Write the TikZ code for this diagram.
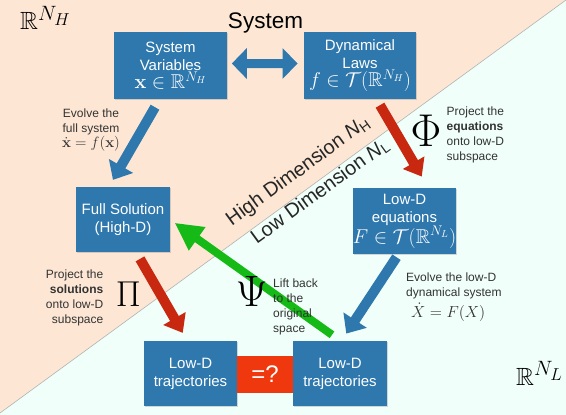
\RequirePackage{fix-cm}
\documentclass[tikz,border=0pt]{standalone}
\usepackage{amsmath,amssymb}
\usepackage[no-math]{fontspec}
\setmainfont{Liberation Sans}
\usetikzlibrary{calc,shadows}
\definecolor{peach}{RGB}{253,231,212}
\definecolor{mint}{RGB}{240,255,250}
\definecolor{boxblue}{RGB}{46,120,174}
\definecolor{arrred}{RGB}{200,40,16}
\definecolor{arrgreen}{RGB}{22,186,22}
\definecolor{qred}{RGB}{240,56,14}
\newcommand{\blockarrow}[6]{%
  \coordinate (ba-h) at ($(#3)!#6!(#2)$);
  \fill[#1] ($(#2)!#4!90:(#3)$) -- ($(ba-h)!#4!-90:(#2)$) -- ($(ba-h)!#5!-90:(#2)$) -- (#3)
    -- ($(ba-h)!#5!90:(#2)$) -- ($(ba-h)!#4!90:(#2)$) -- ($(#2)!#4!-90:(#3)$) -- cycle;}
\tikzset{
  bluebox/.style={fill=boxblue, text=white, align=center, inner sep=0pt,
    font=\fontsize{15}{18}\selectfont,
    drop shadow={shadow xshift=1pt, shadow yshift=-1pt, opacity=0.3}},
  qbox/.style={fill=qred, text=white, inner sep=0pt, font=\fontsize{24}{24}\selectfont},
  lbl/.style={font=\fontsize{12}{15}\selectfont, text=black!80, inner sep=0pt},
  diag/.style={font=\fontsize{20}{20}\selectfont, text=black!85, inner sep=0pt, rotate=36.12},
  bigsym/.style={inner sep=0pt},
  bluearr/.style={fill=boxblue},
  redarr/.style={fill=arrred},
  greenarr/.style={fill=arrgreen},
}
\begin{document}
\begin{tikzpicture}[x=1pt,y=-1pt]
\useasboundingbox (0,0) rectangle (566,415);
% background
\fill[peach] (0,0) rectangle (566,415);
\fill[mint] (0,413) -- (566,0) -- (566,415) -- (0,415) -- cycle;
\draw[black!30, line width=0.6pt] (0,413) -- (566,0);

% corner labels and title
\node[anchor=base west, inner sep=0pt, font=\fontsize{24.88}{24.88}\selectfont] (rh) at (20,30) {$\mathbb{R}^{N_H}$};
\node[anchor=base west, inner sep=0pt, font=\fontsize{24.88}{24.88}\selectfont] (rl) at (516,385) {$\mathbb{R}^{N_L}$};
\node[anchor=base, inner sep=0pt, font=\fontsize{22.5}{22.5}\selectfont] (title) at (265.5,28) {System};

% diagonal texts
\node[diag, anchor=base west] (hd) at (231.7,226.6) {High Dimension {\itshape N}\textsubscript{H}};
\node[diag, anchor=base west] (ld) at (256.7,245) {Low Dimension {\itshape N}\textsubscript{L}};

% boxes
\node[bluebox, minimum width=113pt, minimum height=67pt] (sv) at (170.5,65.5)
  {System\\Variables\\{\fontsize{20}{20}\selectfont$\mathbf{x}\in\mathbb{R}^{N_H}$}};
\node[bluebox, minimum width=112pt, minimum height=67pt] (dl) at (360,65.5)
  {Dynamical\\Laws\\{\fontsize{20}{20}\selectfont$f\in\mathcal{T}(\mathbb{R}^{N_H})$}};
\node[bluebox, minimum width=94pt, minimum height=65pt] (fs) at (123,219.5)
  {Full Solution\\(High-D)};
\node[bluebox, minimum width=93pt, minimum height=66pt] (le) at (404.5,221)
  {Low-D\\equations\\{\fontsize{20}{20}\selectfont$F\in\mathcal{T}(\mathbb{R}^{N_L})$}};
\node[bluebox, minimum width=93pt, minimum height=65pt] (lt1) at (190.5,373.5)
  {Low-D\\trajectories};
\node[bluebox, minimum width=94pt, minimum height=65pt] (lt2) at (340,373.5)
  {Low-D\\trajectories};
\node[qbox, minimum width=56pt, minimum height=37pt] (eq) at (265,374.5) {=?};

% arrow end points
\coordinate (da) at ([shift={(4.7pt,2pt)}]sv.east);
\coordinate (db) at ([shift={(-6.3pt,2pt)}]dl.west);
\coordinate (b1s) at ([shift={(-15.5pt,-8pt)}]sv.south);
\coordinate (b1e) at ([shift={(-10pt,7pt)}]fs.north);
\coordinate (p1s) at ([shift={(20pt,-6pt)}]dl.south);
\coordinate (p1e) at ([shift={(17.2pt,11.3pt)}]le.north);
\coordinate (b2s) at ([shift={(-8pt,-3pt)}]le.south);
\coordinate (b2e) at ([shift={(6.3pt,7.3pt)}]lt2.north);
\coordinate (r2s) at ([shift={(17pt,-6.7pt)}]fs.south);
\coordinate (r2e) at ([shift={(-7.8pt,8pt)}]lt1.north);
\coordinate (gs) at ([shift={(-8pt,6pt)}]lt2.north);
\coordinate (ge) at ([shift={(5pt,-3.7pt)}]fs.east);

% double arrow
\coordinate (dha) at ($(da)!15pt!(db)$);
\coordinate (dhb) at ($(db)!15pt!(da)$);
\fill[bluearr] (da) -- ($(dha)!15.5pt!90:(db)$) -- ($(dha)!4.5pt!90:(db)$) -- ($(dhb)!4.5pt!-90:(da)$)
  -- ($(dhb)!15.5pt!-90:(da)$) -- (db) -- ($(dhb)!15.5pt!90:(da)$) -- ($(dhb)!4.5pt!90:(da)$)
  -- ($(dha)!4.5pt!-90:(db)$) -- ($(dha)!15.5pt!-90:(db)$) -- cycle;

% block arrows
\blockarrow{bluearr}{b1s}{b1e}{5pt}{14pt}{16pt}
\blockarrow{redarr}{p1s}{p1e}{5pt}{12.5pt}{16pt}
\blockarrow{bluearr}{b2s}{b2e}{5pt}{14pt}{16pt}
\blockarrow{redarr}{r2s}{r2e}{5pt}{13pt}{16.5pt}
\blockarrow{greenarr}{gs}{ge}{4pt}{14.5pt}{27pt}

% big symbols
\node[bigsym] (phi) at (426,130.5) {\fontsize{46}{46}\selectfont$\Phi$};
\node[bigsym] (pi) at (128.3,294.5) {\fontsize{36}{36}\selectfont$\Pi$};
\node[bigsym] (psi) at (251.7,291) {\fontsize{44}{44}\selectfont$\Psi$};

% labels
\node[lbl, align=center] (l1) at (91,130)
  {Evolve the\\full system\\{\fontsize{15}{15}\selectfont$\dot{\mathbf{x}}=f(\mathbf{x})$}};
\node[lbl, align=left, anchor=west] (l2) at (446.5,135)
  {Project the\\\textbf{equations}\\onto low-D\\subspace};
\node[lbl, align=right, anchor=east] (l3) at (103.5,297.5)
  {Project the\\\textbf{solutions}\\onto low-D\\subspace};
\node[lbl, align=left, anchor=west] (l4) at (273,306.5)
  {Lift back\\to the\\original\\space};
\node[lbl, align=left, anchor=west] (l5) at (406,297)
  {Evolve the low-D\\dynamical system\\[3pt]\hspace*{5pt}{\fontsize{16}{16}\selectfont$\dot{X}=F(X)$}};
\end{tikzpicture}
\end{document}
